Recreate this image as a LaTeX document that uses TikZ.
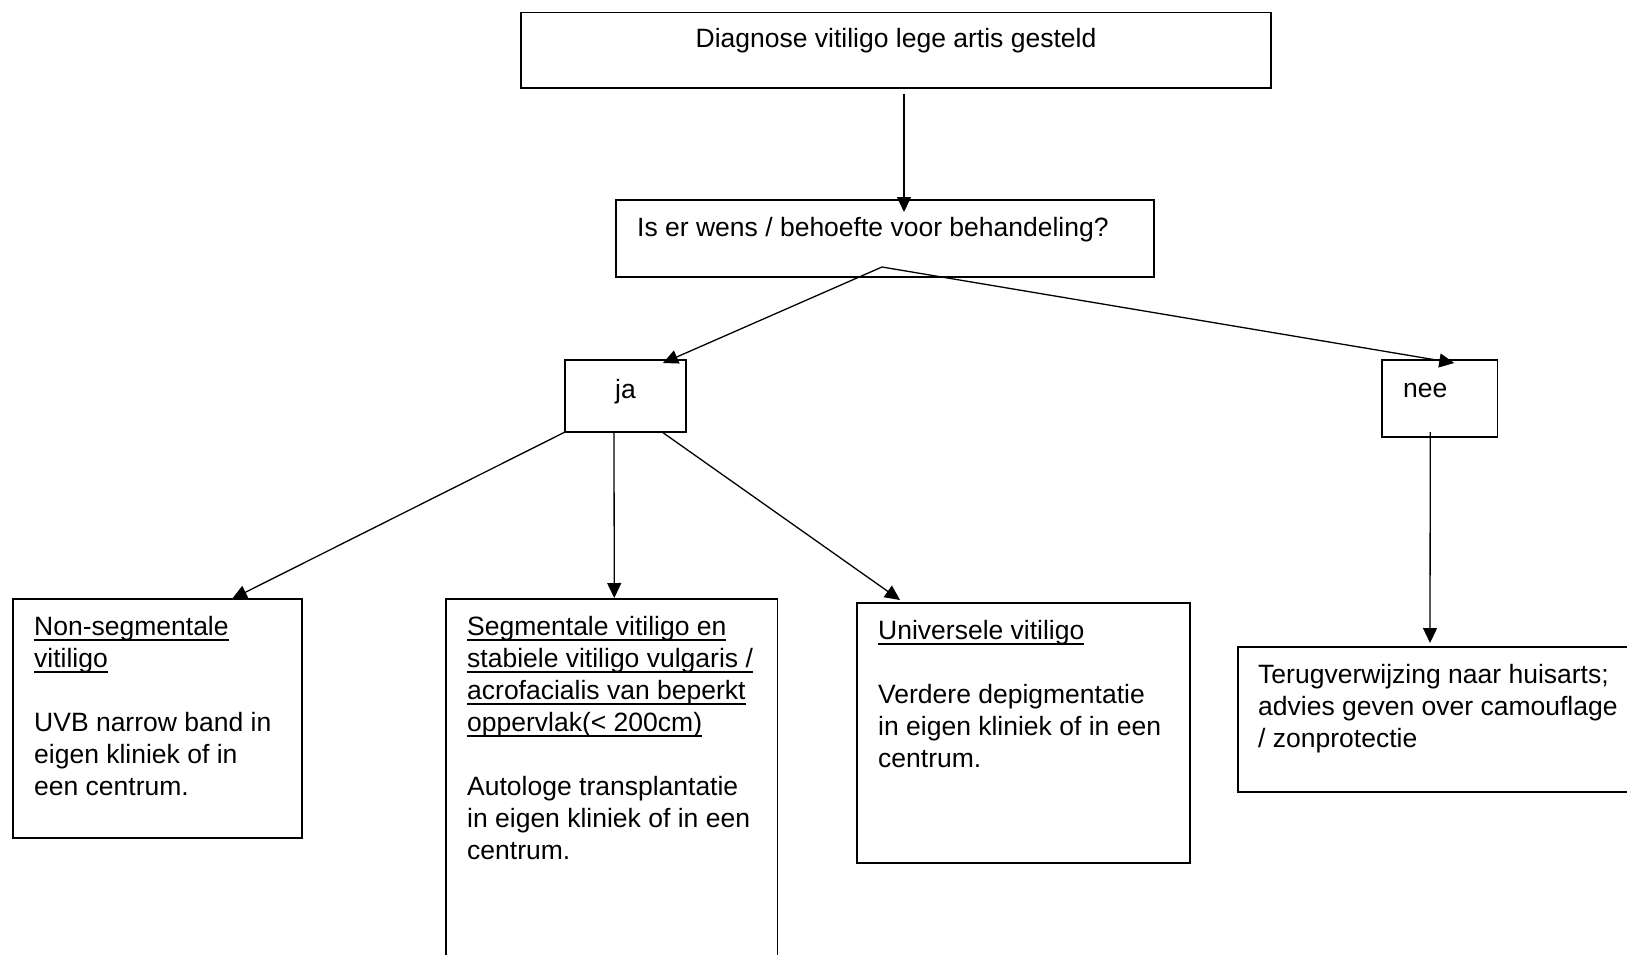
\documentclass[tikz,border=0pt]{standalone}
\usepackage{fontspec}
\setmainfont{Liberation Sans}
\usetikzlibrary{arrows.meta,calc}
\newcommand\ulx[1]{\setbox0\hbox{#1}\rlap{\rule[-5.5pt]{\wd0}{1.6pt}}\box0}
\newcommand\fl{\rule{0pt}{21pt}}
\begin{document}
\begin{tikzpicture}[x=1pt,y=-1pt,
  box/.style={draw,line width=1.6pt,rectangle,inner sep=0pt,outer sep=0pt,anchor=north west},
  txt/.style={inner sep=0pt,align=left,font=\fontsize{26.5}{32}\selectfont},
  arr/.style={line width=1.3pt,-{Triangle[length=15pt,width=14pt]}}]
\clip (0,0) rectangle (1627,955);
\fill[white] (0,0) rectangle (1627,955);
% boxes
\node[box,minimum width=750pt,minimum height=75.5pt] (top) at (521,12.5) {};
\node[box,minimum width=538pt,minimum height=77pt] (q) at (616,200) {};
\node[box,minimum width=121pt,minimum height=72pt] (ja) at (565,360) {};
\node[box,minimum width=115.5pt,minimum height=77pt] (nee) at (1382,360) {};
\node[box,minimum width=289pt,minimum height=239pt] (ns) at (13,599) {};
\node[box,minimum width=331.5pt,minimum height=400pt] (seg) at (446,599) {};
\node[box,minimum width=333pt,minimum height=260pt] (univ) at (857,603) {};
\node[box,minimum width=420pt,minimum height=145pt] (terug) at (1238,647) {};
% texts
\node[txt,anchor=base] (ttop) at (896,48) {Diagnose vitiligo lege artis gesteld};
\node[txt,anchor=base west] (tq) at (637,236) {Is er wens / behoefte voor behandeling?};
\node[txt,anchor=base west] (tja) at (615,398) {ja};
\node[txt,anchor=base west] (tnee) at (1403,397) {nee};
\node[txt,anchor=north west] (tns) at (34,614) {\fl\ulx{Non-segmentale}\\ \ulx{vitiligo}\\[32pt] UVB narrow band in\\ eigen kliniek of in\\ een centrum.};
\node[txt,anchor=north west] (tseg) at (467,614) {\fl\ulx{Segmentale vitiligo en}\\ \ulx{stabiele vitiligo vulgaris /}\\ \ulx{acrofacialis van beperkt}\\ \ulx{oppervlak(< 200cm)}\\[32pt] Autologe transplantatie\\ in eigen kliniek of in een\\ centrum.};
\node[txt,anchor=north west] (tuniv) at (878,618) {\fl\ulx{Universele vitiligo}\\[32pt] Verdere depigmentatie\\ in eigen kliniek of in een\\ centrum.};
\node[txt,anchor=north west] (tterug) at (1258,662) {\fl Terugverwijzing naar huisarts;\\ advies geven over camouflage\\ / zonprotectie};
% connectors
\coordinate (qa) at ($(q.south)+(-3,-10)$);
\draw[arr] ($(top.south)+(8,6)$) -- ($(q.north)+(19,12)$);
\draw[arr] (qa) -- ($(ja.north)+(37.5,3)$);
\draw[arr] (qa) -- ($(nee.north)+(14.5,3)$);
\draw[arr] (ja.south west) -- ($(ns.north)+(74.5,0)$);
\draw[arr] ($(ja.south)+(-11.5,0)$) -- ($(seg.north)+(2.5,-1)$);
\draw[arr] ($(ja.south east)+(-24,0)$) -- ($(univ.north west)+(43,-3)$);
\draw[arr] ($(nee.south)+(-9.5,-5)$) -- ($(terug.north west)+(192,-4)$);
\end{tikzpicture}
\end{document}
